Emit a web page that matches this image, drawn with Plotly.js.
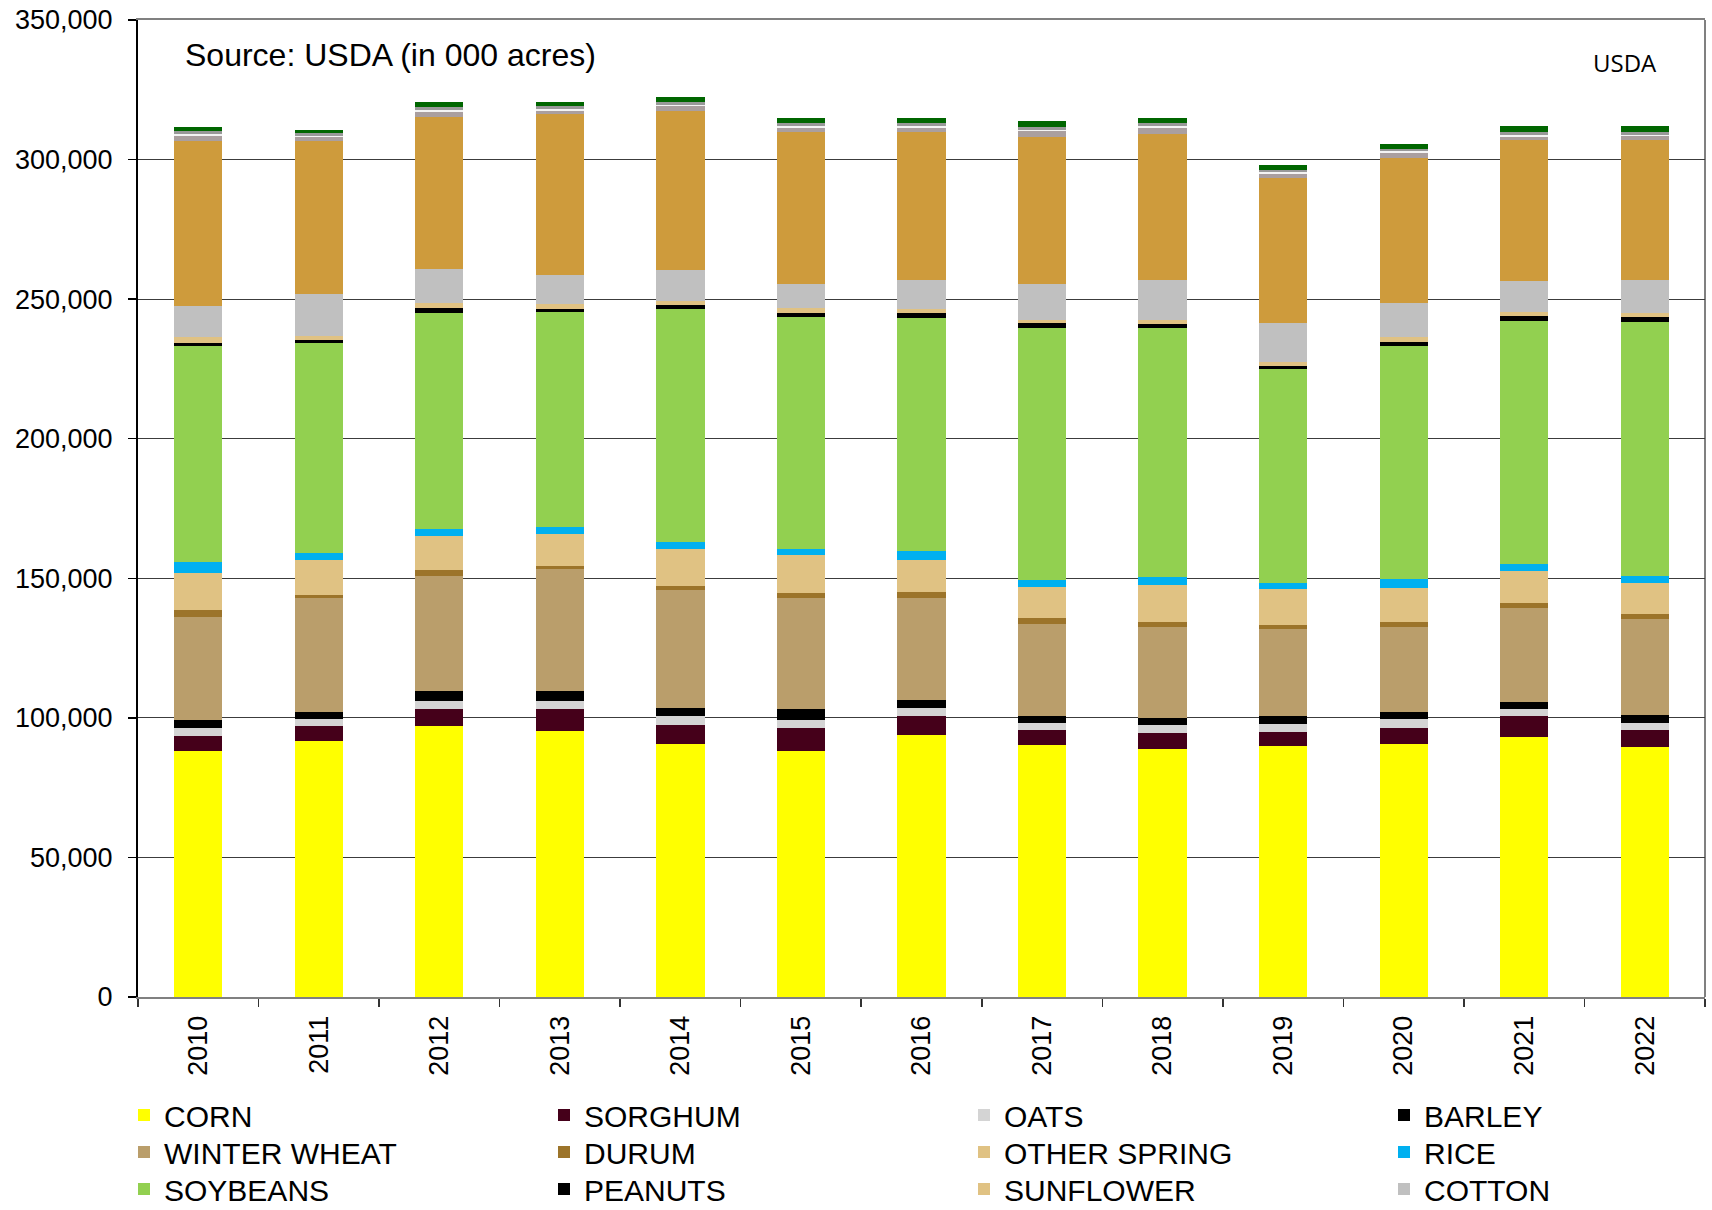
<!DOCTYPE html>
<html>
<head>
<meta charset="utf-8">
<script src="https://cdn.plot.ly/plotly-3.0.1.min.js"></script>
<style>
  html, body { margin: 0; padding: 0; background: #ffffff; }
  #chart { width: 1712px; height: 1210px; }
</style>
</head>
<body>
<div id="chart"></div>
<script>
// Planted / harvested area, in 000 acres
const years = ["2010","2011","2012","2013","2014","2015","2016","2017","2018","2019","2020","2021","2022"];

const corn        = [88000, 91800, 97200, 95300, 90600, 88000, 94000, 90100, 88800, 89800, 90600, 93300, 89400];
const sorghum     = [ 5400,  5400,  6000,  7900,  6900,  8300,  6500,  5500,  5600,  5300,  5900,  7200,  6300];
const oats        = [ 3100,  2400,  2900,  2800,  3000,  3100,  3000,  2700,  2900,  2600,  3000,  2600,  2500];
const barley      = [ 2900,  2500,  3700,  3800,  3000,  3600,  2900,  2400,  2500,  2800,  2600,  2600,  2800];
const winterWheat = [36700, 40800, 41000, 43400, 42200, 39900, 36500, 32900, 32600, 31500, 30600, 33700, 34400];
const durum       = [ 2400,  1100,  2100,  1200,  1600,  1700,  2100,  2100,  1900,  1200,  1600,  1700,  1700];
const otherSpring = [13500, 12400, 12200, 11600, 13100, 13600, 11700, 11200, 13200, 12900, 12200, 11400, 11200];
const rice        = [ 3700,  2600,  2500,  2500,  2600,  2300,  2900,  2400,  2900,  2200,  3100,  2500,  2500];
const soybeans    = [77500, 75300, 77400, 76900, 83400, 83000, 83600, 90200, 89200, 76500, 83500, 87300, 91000];
const peanuts     = [ 1200,  1200,  1800,  1000,  1500,  1500,  1700,  1800,  1500,  1400,  1700,  1500,  1700];
const sunflower   = [ 1900,  1400,  1900,  1800,  1500,  1900,  1500,  1400,  1400,  1300,  1700,  1600,  1400];
const cotton      = [11100, 14900, 12100, 10300, 11200,  8700, 10300, 12900, 14200, 13800, 12100, 11100, 12100];
// series stacked above cotton that are not listed in the legend
const hay         = [59400, 55000, 54600, 57700, 56800, 54200, 53300, 52600, 52500, 52200, 52100, 50400, 50100];
const dryBeans    = [ 1800,  1300,  1700,  1300,  1800,  1600,  1400,  2000,  2200,  1500,  1800,  1300,  1200];
const tobacco     = [  600,   500,   600,   600,   400,   600,   600,   500,   500,   500,   500,   600,   500];
const sugarbeets  = [  900,  1000,  1200,  1200,  1100,  1100,  1100,  1000,  1100,   900,   900,  1100,  1200];
const canola      = [ 1600,  1100,  1700,  1300,  1800,  1800,  1700,  2100,  1800,  1800,  1700,  2100,  2100];

const seriesNames  = ["CORN","SORGHUM","OATS","BARLEY","WINTER WHEAT","DURUM","OTHER SPRING","RICE",
                      "SOYBEANS","PEANUTS","SUNFLOWER","COTTON","HAY","DRY BEANS","TOBACCO","SUGARBEETS","CANOLA"];
const seriesValues = [corn, sorghum, oats, barley, winterWheat, durum, otherSpring, rice,
                      soybeans, peanuts, sunflower, cotton, hay, dryBeans, tobacco, sugarbeets, canola];
const seriesColors = ["#FFFF00","#45001A","#D4D4D4","#000000","#BA9E6B","#9C742A","#E0C283","#00B0F0",
                      "#92D050","#000000","#E0C283","#C0C0C0","#CE9B3C","#AA9F9F","#F4F4F4","#999999","#006600"];
const inLegend = 12;

const yTickVals = [0, 50000, 100000, 150000, 200000, 250000, 300000, 350000];

const FONT = "Liberation Sans, Arial, sans-serif";
const PLOT_L = 138, PLOT_W = 1712 - 138 - 7;

// one legend per entry so the 4 x 3 grid sits where the reference has it
function legendId(i) { return i === 0 ? "legend" : "legend" + (i + 1); }
function legendEntry(i) {
  const col = i % 4, row = Math.floor(i / 4);
  return {
    orientation: "v",
    xref: "paper",
    yref: "container",
    x: (124 + 420 * col - PLOT_L) / PLOT_W,
    xanchor: "left",
    y: 1 - (1089 + 37 * row) / 1210,
    yanchor: "top",
    font: { family: FONT, size: 30, color: "#000000" },
    bgcolor: "rgba(0,0,0,0)",
    borderwidth: 0
  };
}

const traces = seriesNames.map((name, i) => {
  const t = {
    type: "bar",
    name: name,
    x: years,
    y: seriesValues[i],
    marker: { color: seriesColors[i], line: { width: 0 } },
    showlegend: i < inLegend,
    hovertemplate: name + " %{x}: %{y:,}<extra></extra>"
  };
  if (i < inLegend) t.legend = legendId(i);
  return t;
});

const layout = {
  width: 1712,
  height: 1210,
  margin: { l: PLOT_L, r: 7, t: 20, b: 213 },
  paper_bgcolor: "#ffffff",
  plot_bgcolor: "#ffffff",
  font: { family: FONT, color: "#000000", size: 27 },
  barmode: "stack",
  bargap: 0.6,
  showlegend: true,
  xaxis: {
    type: "category",
    tickson: "boundaries",
    ticks: "outside",
    ticklen: 8,
    tickwidth: 1.5,
    tickcolor: "#333333",
    tickangle: -90,
    tickfont: { family: FONT, size: 27, color: "#000000" },
    ticklabelstandoff: 6,
    showgrid: false,
    showline: true,
    linecolor: "#808080",
    linewidth: 2,
    mirror: true,
    zeroline: false,
    fixedrange: true
  },
  yaxis: {
    range: [0, 350000],
    tickmode: "array",
    tickvals: yTickVals,
    tickformat: ",d",
    ticks: "outside",
    ticklen: 8,
    tickwidth: 1.5,
    tickcolor: "#000000",
    tickfont: { family: FONT, size: 27, color: "#000000" },
    ticklabelstandoff: 10,
    showgrid: true,
    gridcolor: "#3c3c3c",
    gridwidth: 1.2,
    showline: true,
    linecolor: "#000000",
    linewidth: 2,
    zeroline: false,
    fixedrange: true
  },
  shapes: [
    { type: "line", xref: "paper", yref: "paper", x0: 1, x1: 1, y0: 0, y1: 1,
      line: { color: "#808080", width: 2 }, layer: "below" }
  ],
  annotations: [
    { text: "Source: USDA (in 000 acres)", xref: "paper", yref: "paper",
      x: 0.0287, y: 0.9646, xanchor: "left", yanchor: "middle", showarrow: false,
      font: { family: FONT, size: 32, color: "#000000" } },
    { text: "USDA", xref: "paper", yref: "paper",
      x: 0.949, y: 0.956, xanchor: "center", yanchor: "middle", showarrow: false,
      font: { family: "Open Sans, Lato, sans-serif", size: 24, color: "#000000" } }
  ]
};
for (let i = 0; i < inLegend; i++) layout[legendId(i)] = legendEntry(i);

Plotly.newPlot("chart", traces, layout, { displayModeBar: false, staticPlot: true });
</script>
</body>
</html>
